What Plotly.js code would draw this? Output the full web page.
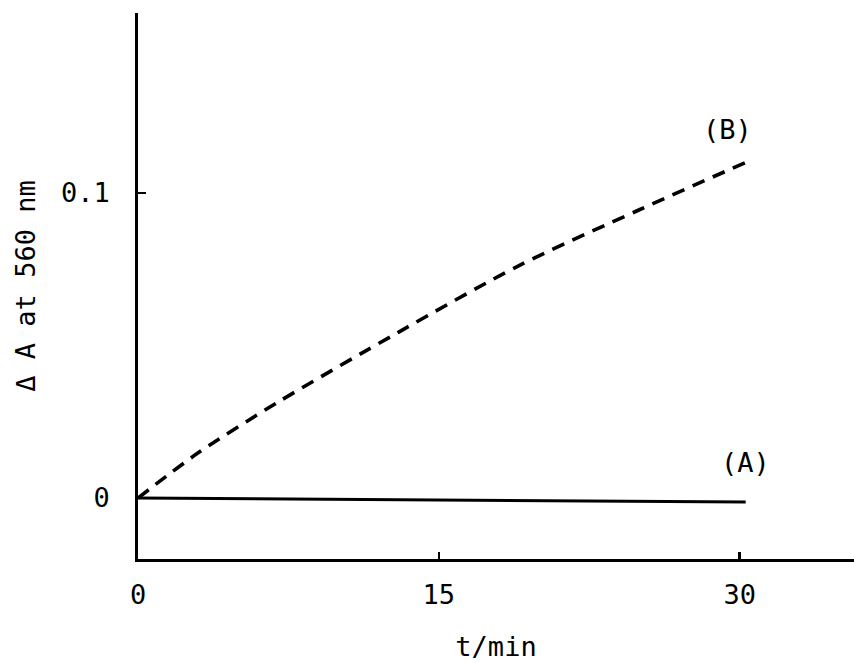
<!DOCTYPE html>
<html>
<head>
<meta charset="utf-8">
<script src="https://cdn.plot.ly/plotly-3.0.1.min.js"></script>
<style>html,body{margin:0;padding:0;background:#fff;}#chart{width:854px;height:662px;}</style>
</head>
<body>
<div id="chart"></div>
<script>
// Data
var tA = [0, 30.3];
var yA = [0, -0.0013];
var tB = [0, 3, 7, 13, 19, 25, 30.3];
var yB = [0, 0.0148, 0.0315, 0.0544, 0.0762, 0.0945, 0.110];
var xTickVals = [0, 15, 30];
var xTickText = ["0", "15", "30"];
var yTickVals = [0, 0.1];
var yTickText = ["0", "0.1"];
var labelA = "(A)";
var labelB = "(B)";
var labelPosA = [30.3, 0.0115];
var labelPosB = [29.4, 0.1207];

var FONT = "'DejaVu Sans Mono', 'Liberation Mono', monospace";
var FS = 27;

var traces = [
  {x: tA, y: yA, mode: "lines", name: "A", line: {color: "#000", width: 3}},
  {x: tB, y: yB, mode: "lines", name: "B", line: {color: "#000", width: 3.6, dash: "13px,9px", shape: "spline", smoothing: 0.8}}
];

var layout = {
  width: 854, height: 662,
  margin: {l: 138, r: 0, t: 13, b: 103},
  paper_bgcolor: "#fff", plot_bgcolor: "#fff",
  showlegend: false,
  font: {family: FONT, color: "#000", size: FS},
  xaxis: {
    range: [0, 35.7], showgrid: false, zeroline: false,
    showline: true, linecolor: "#000", linewidth: 2.8,
    tickmode: "array", tickvals: xTickVals, ticktext: xTickText,
    ticks: "inside", ticklen: 7, tickwidth: 2.5, tickcolor: "#000",
    ticklabelstandoff: 10,
    tickfont: {family: FONT, size: FS, color: "#000"},
    title: {text: "t/min", font: {family: FONT, size: FS, color: "#000"}, standoff: 30}
  },
  yaxis: {
    range: [-0.0200, 0.159], showgrid: false, zeroline: false,
    showline: true, linecolor: "#000", linewidth: 2.8,
    tickmode: "array", tickvals: yTickVals, ticktext: yTickText,
    ticks: "inside", ticklen: 8, tickwidth: 2.5, tickcolor: "#000",
    ticklabelstandoff: 20,
    tickfont: {family: FONT, size: FS, color: "#000"},
    title: {text: "Δ A at 560 nm", font: {family: FONT, size: FS, color: "#000"}, standoff: 18}
  },
  annotations: [
    {x: labelPosA[0], y: labelPosA[1], xref: "x", yref: "y", text: labelA, showarrow: false,
     font: {family: FONT, size: FS, color: "#000"}},
    {x: labelPosB[0], y: labelPosB[1], xref: "x", yref: "y", text: labelB, showarrow: false,
     font: {family: FONT, size: FS, color: "#000"}}
  ]
};

Plotly.newPlot("chart", traces, layout, {displayModeBar: false, staticPlot: true});
</script>
</body>
</html>
